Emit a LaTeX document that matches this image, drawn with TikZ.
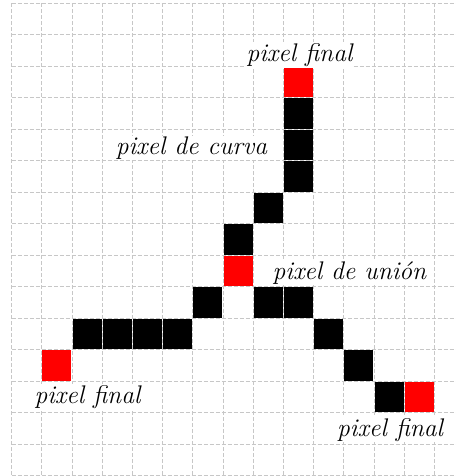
\documentclass[tikz,border=0pt]{standalone}
\begin{document}
\begin{tikzpicture}[x=30.2pt, y=-31.5pt,
  gridline/.style={draw=black!22, line width=0.9pt, dash pattern=on 4pt off 2pt},
  curvepix/.style={fill=black},
  endpix/.style={fill=red},
  lbl/.style={fill=white, inner sep=1pt, font=\itshape\fontsize{25.5}{30}\selectfont}]
\useasboundingbox (-0.387,-0.105) rectangle (14.712,15.006);
% dashed grid
\foreach \r in {0,...,15} \draw[gridline] (0,\r) -- (14.712,\r);
\foreach \c in {0,...,14} \draw[gridline] (\c,0) -- (\c,15.006);
% curve pixels
\foreach \c/\r in {9/3,9/4,9/5,8/6,7/7,6/9,2/10,3/10,4/10,5/10,8/9,9/9,10/10,11/11,12/12}
  \path[curvepix] (\c+0.02,\r+0.02) rectangle (\c+0.98,\r+0.98);
% end and junction pixels
\foreach \c/\r in {9/2,7/8,1/11,13/12}
  \path[endpix] (\c+0.02,\r+0.02) rectangle (\c+0.98,\r+0.98);
% labels
\node[lbl] (endtop) at (9.53,1.64) {pixel final};
\node[lbl, anchor=east] (curve) at (8.5,4.59) {pixel de curva};
\node[lbl, anchor=west] (junction) at (8.6,8.56) {pixel de unión};
\node[lbl] (endleft) at (2.51,12.5) {pixel final};
\node[lbl] (endright) at (12.53,13.54) {pixel final};
\end{tikzpicture}
\end{document}
